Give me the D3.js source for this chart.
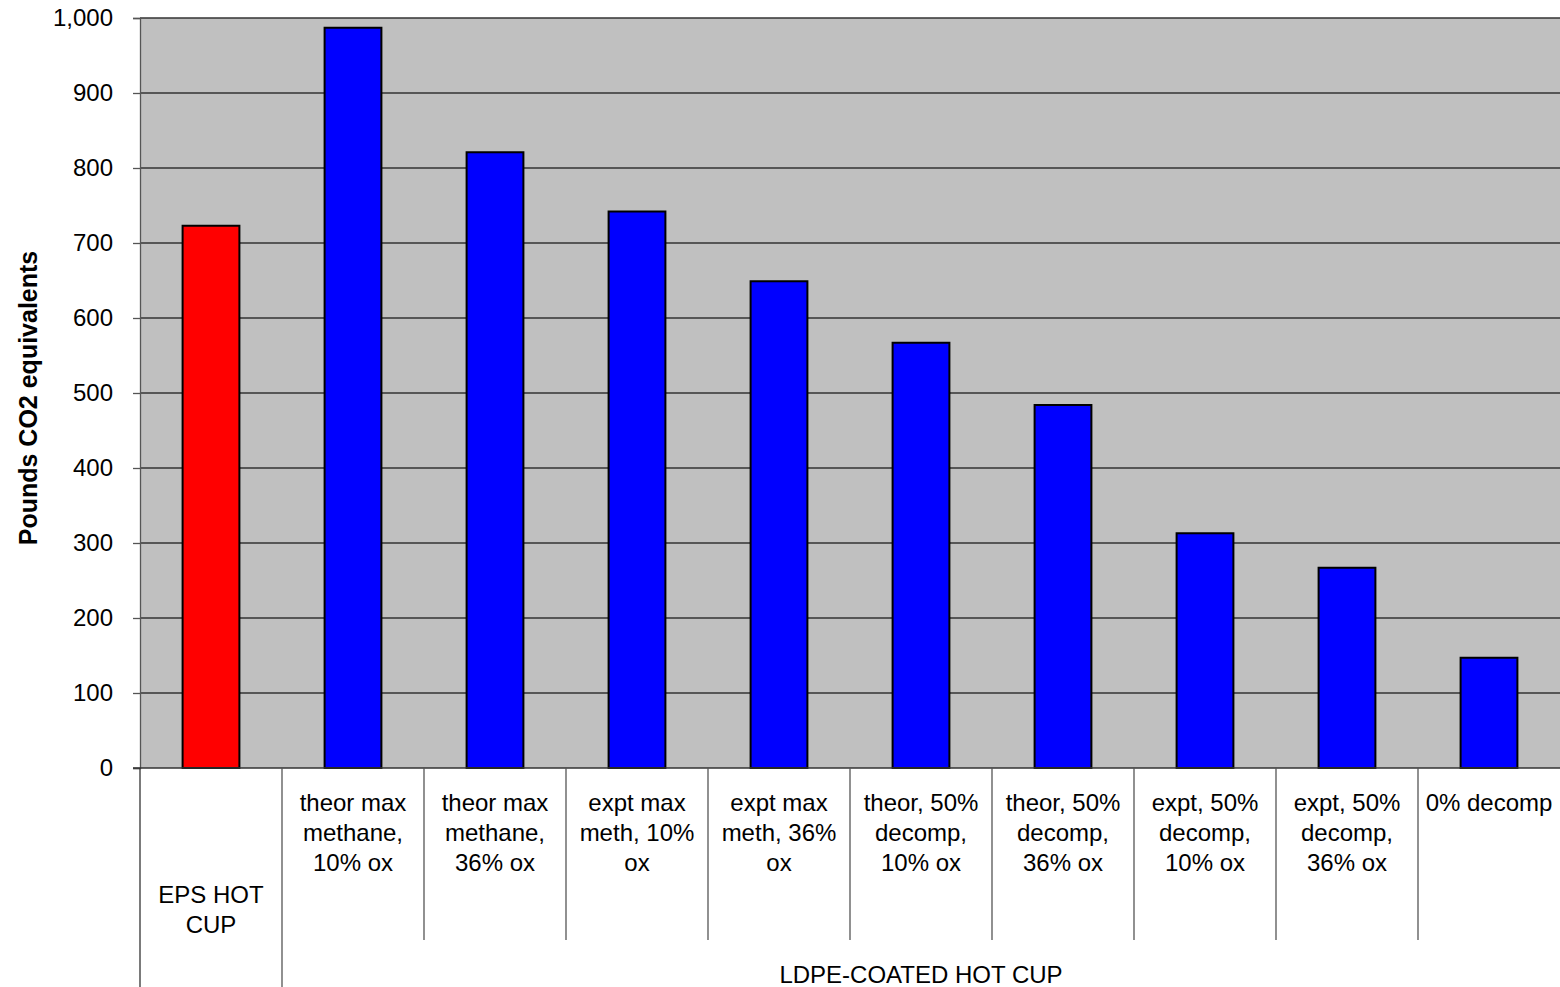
<!DOCTYPE html>
<html>
<head>
<meta charset="utf-8">
<script src="https://cdn.jsdelivr.net/npm/d3@7"></script>
<style>
    body { margin: 0; background: #fff; }
    text { font-family: Arial, "Liberation Sans", sans-serif; fill: #000; }
</style>
</head>
<body>
<div id="chart"></div>
<script>
// category labels (each an array of lines)
var categories = [
    ["EPS HOT", "CUP"],
    ["theor max", "methane,", "10% ox"],
    ["theor max", "methane,", "36% ox"],
    ["expt max", "meth, 10%", "ox"],
    ["expt max", "meth, 36%", "ox"],
    ["theor, 50%", "decomp,", "10% ox"],
    ["theor, 50%", "decomp,", "36% ox"],
    ["expt, 50%", "decomp,", "10% ox"],
    ["expt, 50%", "decomp,", "36% ox"],
    ["0% decomp"]
];
var values = [723, 987, 821, 742, 649, 567, 484, 313, 267, 147];
var barColors = ["#ff0000", "#0000ff", "#0000ff", "#0000ff", "#0000ff", "#0000ff", "#0000ff", "#0000ff", "#0000ff", "#0000ff"];
var groups = [
    {name: "", from: 0, to: 0},
    {name: "LDPE-COATED HOT CUP", from: 1, to: 9}
];
var yTicks = [0, 100, 200, 300, 400, 500, 600, 700, 800, 900, 1000];

var width = 1560, height = 987;
var plotLeft = 140, plotRight = 1560, plotTop = 18, plotBottom = 768;

var svg = d3.select("#chart")
    .append("svg")
    .attr("width", width)
    .attr("height", height);

var x = d3.scaleBand()
    .domain(d3.range(categories.length))
    .range([plotLeft, plotRight]);

var y = d3.scaleLinear()
    .domain([0, 1000])
    .range([plotBottom, plotTop]);

// plot background
svg.append("rect")
    .attr("x", plotLeft)
    .attr("y", plotTop)
    .attr("width", plotRight - plotLeft)
    .attr("height", plotBottom - plotTop)
    .style("fill", "#c0c0c0");

// gridlines
svg.selectAll(".grid")
    .data(yTicks.slice(1))
    .enter()
    .append("line")
    .attr("x1", plotLeft)
    .attr("x2", plotRight)
    .attr("y1", function(d) { return y(d); })
    .attr("y2", function(d) { return y(d); })
    .style("stroke", "#333")
    .style("stroke-width", 1.3);

// bars
var bw = x.bandwidth() * 0.4;
svg.selectAll(".bar")
    .data(values)
    .enter()
    .append("rect")
    .attr("x", function(d, i) { return x(i) + (x.bandwidth() - bw) / 2; })
    .attr("y", function(d) { return y(d); })
    .attr("width", bw)
    .attr("height", function(d) { return plotBottom - y(d); })
    .style("fill", function(d, i) { return barColors[i]; })
    .style("stroke", "#000")
    .style("stroke-width", 2);

// y axis
var yAxis = d3.axisLeft(y)
    .tickValues(yTicks)
    .tickSize(7)
    .tickPadding(20)
    .tickFormat(d3.format(","));

var ya = svg.append("g")
    .attr("transform", "translate(" + plotLeft + ",0)")
    .call(yAxis);
ya.select(".domain").style("stroke", "#555").style("stroke-width", 1.3);
ya.selectAll(".tick line").style("stroke", "#555").style("stroke-width", 1.3);
ya.selectAll(".tick text")
    .style("font-size", "24px")
    .style("font-family", "Arial, 'Liberation Sans', sans-serif")
    .style("fill", "#000");

// x axis line
svg.append("line")
    .attr("x1", plotLeft - 7)
    .attr("x2", plotRight)
    .attr("y1", plotBottom)
    .attr("y2", plotBottom)
    .style("stroke", "#333")
    .style("stroke-width", 1.5);

// category dividers
svg.selectAll(".div")
    .data(d3.range(1, categories.length))
    .enter()
    .append("line")
    .attr("x1", function(d) { return x(d); })
    .attr("x2", function(d) { return x(d); })
    .attr("y1", plotBottom)
    .attr("y2", function(d) { return d === 1 ? height : 940; })
    .style("stroke", "#555")
    .style("stroke-width", 1.3);

svg.append("line")
    .attr("x1", plotLeft)
    .attr("x2", plotLeft)
    .attr("y1", plotBottom)
    .attr("y2", height)
    .style("stroke", "#333")
    .style("stroke-width", 1.3);

// category labels
svg.selectAll(".cat")
    .data(categories)
    .enter()
    .append("text")
    .attr("text-anchor", "middle")
    .style("font-size", "24px")
    .each(function(lines, i) {
        var cx = x(i) + x.bandwidth() / 2;
        var y0 = i === 0 ? 903 : 811;
        d3.select(this).selectAll("tspan")
            .data(lines)
            .enter()
            .append("tspan")
            .attr("x", cx)
            .attr("y", function(d, j) { return y0 + j * 30; })
            .text(function(d) { return d; });
    });

// group label
groups.forEach(function(g) {
    if (!g.name) return;
    var x0 = x(g.from), x1 = x(g.to) + x.bandwidth();
    svg.append("text")
        .attr("x", (x0 + x1) / 2)
        .attr("y", 983)
        .attr("text-anchor", "middle")
        .style("font-size", "24px")
        .text(g.name);
});

// y axis title
svg.append("text")
    .attr("transform", "translate(37,398) rotate(-90)")
    .attr("text-anchor", "middle")
    .style("font-size", "25px")
    .style("font-weight", "bold")
    .text("Pounds CO2 equivalents");
</script>
</body>
</html>
